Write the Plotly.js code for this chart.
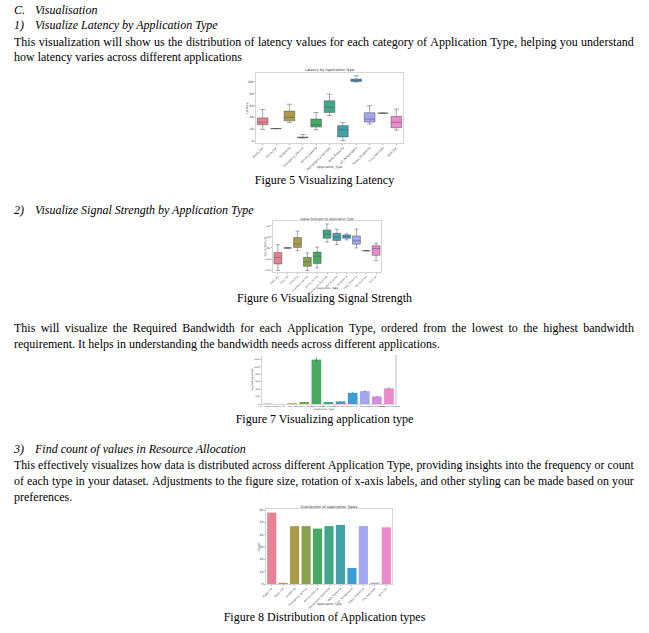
<!DOCTYPE html>
<html><head><meta charset="utf-8">
<script src="https://cdn.plot.ly/plotly-3.0.1.min.js"></script>
<style>
body{margin:0;background:#fff;width:649px;height:633px;position:relative;overflow:hidden;font-family:"Liberation Serif","Times New Roman",serif;color:#000;}
.t{position:absolute;left:14px;width:620px;font-size:12px;line-height:16px;height:16px;white-space:nowrap;}
.j{display:flex;justify-content:space-between;white-space:nowrap;}
.i{font-style:italic;}
.c{text-align:center;left:0;width:649px;}
.n{display:inline-block;width:21px;}
.chart{position:absolute;}
</style></head>
<body>
<div class="t i" style="top:2px"><span class="n">C.</span>Visualisation</div>
<div class="t i" style="top:17px"><span class="n">1)</span>Visualize Latency by Application Type</div>
<div class="t j" style="top:34px">This visualization will show us the distribution of latency values for each category of Application Type, helping you understand</div>
<div class="t" style="top:49px">how latency varies across different applications</div>
<div class="t c" style="top:172px">Figure 5 Visualizing Latency</div>
<div class="t i" style="top:202px"><span class="n">2)</span>Visualize Signal Strength by Application Type</div>
<div class="t c" style="top:290px">Figure 6 Visualizing Signal Strength</div>
<div class="t j" style="top:320px">This will visualize the Required Bandwidth for each Application Type, ordered from the lowest to the highest bandwidth</div>
<div class="t" style="top:336px">requirement. It helps in understanding the bandwidth needs across different applications.</div>
<div class="t c" style="top:411px">Figure 7 Visualizing application type</div>
<div class="t i" style="top:441px"><span class="n">3)</span>Find count of values in Resource Allocation</div>
<div class="t j" style="top:457px;font-size:11.8px">This effectively visualizes how data is distributed across different Application Type, providing insights into the frequency or count</div>
<div class="t j" style="top:473px;font-size:11.9px">of each type in your dataset. Adjustments to the figure size, rotation of x-axis labels, and other styling can be made based on your</div>
<div class="t" style="top:489px">preferences.</div>
<div class="t c" style="top:609px">Figure 8 Distribution of Application types</div>

<div id="c1" class="chart" style="left:240px;top:62px;width:170px;height:116px"></div>
<div id="c2" class="chart" style="left:258px;top:212px;width:132px;height:84px"></div>
<div id="c3" class="chart" style="left:245px;top:350px;width:158px;height:63px"></div>
<div id="c4" class="chart" style="left:245px;top:500px;width:155px;height:112px"></div>

<script>
document.querySelectorAll(".j").forEach(function(el){
  var words = el.textContent.trim().split(/\s+/);
  el.textContent = "";
  words.forEach(function(w){ var s=document.createElement("span"); s.textContent=w; el.appendChild(s); });
});

const appTypes = ["Video_Call","Voice_Call","Streaming","Emergency_Service","Online_Gaming","Background_Download","Web_Browsing","IoT_Temperature","Video_Streaming","File_Download","VoIP_Call"];
const palette = ["#e68294","#c98f52","#ab9b46","#86a24a","#48a962","#40a68a","#3fa2aa","#3d9ed4","#a2a6ef","#cf8ee6","#e88acc"];

const latencyQ1 = [27.5,21,34,5.6,23.6,48,7,100.5,32,47,22.5];
const latencyMedian = [32,21,40,6,27.5,57,19,102,37,47,31.5];
const latencyQ3 = [39,21,50.5,6.7,37,68,26,104.5,47.8,47,41.6];
const latencyLow = [19.7,21,31,5,19,43,1,99.4,28.7,47,18.5];
const latencyHigh = [53,21,62,11,48,79,31.5,110,59.5,47,54];

const signalQ1 = [-108.7,-80,-79,-113,-108,-62.5,-66.7,-62.5,-73.2,-85,-93.3];
const signalMedian = [-96.9,-80,-72.6,-105,-95,-55.4,-60.7,-59.6,-67,-85,-81];
const signalQ3 = [-88,-80,-61.3,-96.9,-87.4,-47.7,-53.6,-56.6,-58.4,-85,-76];
const signalLow = [-120.6,-80,-85,-120.6,-115.8,-69.6,-74.4,-65.5,-80,-85,-102.8];
const signalHigh = [-74,-80,-49.5,-89,-78.5,-37,-46.5,-54.8,-46,-85,-71.4];

const bandwidthOrder = ["IoT_Temperature","Voice_Call","VoIP_Call","Emergency_Service","File_Download","Web_Browsing","Online_Gaming","Video_Call","Streaming","Video_Streaming","Background_Download"];
const bandwidthMean = [10,3,20,53,1190,53,70,300,345,205,420];
const bandwidthErr = [3,1,3,8,55,6,8,20,25,12,25];

const typeCounts = [58,1,47,47,45,47,48,13,47,1,46];

const latencyTicks = [0,20,40,60,80,100];
const signalTicks = [-120,-100,-80,-60,-40];
const bandwidthTicks = [0,200,400,600,800,1000,1200];
const countTicks = [0,10,20,30,40,50,60];

const FONT = "DejaVu Sans, sans-serif";
const cfg = {staticPlot:true, displayModeBar:false};

function baseLayout(W,H,L,T,R,B){
  return {
    width:W,height:H,
    margin:{l:L,t:T,r:W-R,b:H-B,pad:0},
    paper_bgcolor:"rgba(0,0,0,0)",plot_bgcolor:"#fff",
    showlegend:false,hovermode:false,
    font:{family:FONT,size:3,color:"#333"}
  };
}
function axisBase(){
  return {showgrid:false,zeroline:false,showline:true,linecolor:"#bbb",linewidth:0.6,mirror:true,
    ticks:"outside",ticklen:1.5,tickwidth:0.5,tickcolor:"#666",automargin:false,
    tickfont:{family:FONT,size:3,color:"#333"}};
}
function ann(text,x,y,angle,size){
  return {text:text,xref:"paper",yref:"paper",x:x,y:y,showarrow:false,textangle:angle||0,
    xanchor:"center",yanchor:"middle",font:{family:FONT,size:size||3,color:"#333"}};
}

// Chart 1: Latency box plot
(function(){
  const traces = appTypes.map((a,i)=>({
    type:"box",x:[a],q1:[latencyQ1[i]],median:[latencyMedian[i]],q3:[latencyQ3[i]],
    lowerfence:[latencyLow[i]],upperfence:[latencyHigh[i]],
    fillcolor:palette[i],line:{color:"#555",width:0.5},width:0.8,whiskerwidth:0.5,boxpoints:false
  }));
  const lay = baseLayout(170,116,16,10.7,163,81.3);
  lay.boxmode = "overlay";
  lay.title = {text:"Latency by Application Type",font:{family:FONT,size:3.5,color:"#333"},x:0.5,xref:"paper",xanchor:"center",y:1-8/116,yref:"container",yanchor:"middle"};
  lay.xaxis = Object.assign(axisBase(),{type:"category",categoryarray:appTypes,categoryorder:"array",range:[-0.5,10.5],tickangle:-45,tickfont:{family:FONT,size:2.8,color:"#333"}});
  lay.yaxis = Object.assign(axisBase(),{range:[-3.3,114.7],tickvals:latencyTicks});
  lay.annotations = [ann("Latency",(247-256)/147,0.5,-90),ann("Application_Type",0.5,(143.3-167.3)/70.6,0)];
  Plotly.newPlot("c1",traces,lay,cfg);
})();

// Chart 2: Signal strength box plot
(function(){
  const traces = appTypes.map((a,i)=>({
    type:"box",x:[a],q1:[signalQ1[i]],median:[signalMedian[i]],q3:[signalQ3[i]],
    lowerfence:[signalLow[i]],upperfence:[signalHigh[i]],
    fillcolor:palette[i],line:{color:"#555",width:0.5},width:0.8,whiskerwidth:0.5,boxpoints:false
  }));
  const lay = baseLayout(132,84,15,9,123,60.5);
  lay.boxmode = "overlay";
  lay.title = {text:"Signal Strength by Application Type",font:{family:FONT,size:3,color:"#333"},x:0.5,xref:"paper",xanchor:"center",y:1-6.5/84,yref:"container",yanchor:"middle"};
  lay.xaxis = Object.assign(axisBase(),{type:"category",categoryarray:appTypes,categoryorder:"array",range:[-0.5,10.5],tickangle:-45,tickfont:{family:FONT,size:2.2,color:"#333"}});
  lay.yaxis = Object.assign(axisBase(),{range:[-123.2,-31.6],tickvals:signalTicks,tickfont:{family:FONT,size:2.5,color:"#333"}});
  lay.annotations = [ann("Signal_Strength",(265-273)/108,0.5,-90,2.5),ann("Application_Type",0.5,(272.5-289)/51.5,0,2.5)];
  Plotly.newPlot("c2",traces,lay,cfg);
})();

// Chart 3: Required bandwidth bar chart
(function(){
  const colors = bandwidthOrder.map((a,i)=>palette[i]);
  const traces = [{type:"bar",x:bandwidthOrder,y:bandwidthMean,width:0.8,
    marker:{color:colors,line:{width:0}},
    error_y:{type:"data",array:bandwidthErr,visible:true,color:"#444",thickness:0.6,width:0}}];
  const lay = baseLayout(158,63,17,5,150,54);
  lay.xaxis = Object.assign(axisBase(),{type:"category",categoryarray:bandwidthOrder,categoryorder:"array",range:[-0.5,10.5],tickangle:0,mirror:false,ticks:"",tickfont:{family:FONT,size:1.9,color:"#444"}});
  lay.yaxis = Object.assign(axisBase(),{range:[0,1315],tickvals:bandwidthTicks,mirror:false,tickfont:{family:FONT,size:2.2,color:"#444"}});
  lay.shapes = [{type:"rect",xref:"paper",yref:"paper",x0:1.0,x1:1.014,y0:-0.02,y1:1.0,fillcolor:"#dcdcdc",line:{width:0}}];
  lay.annotations = [ann("Required_Bandwidth",(252-262)/133,0.5,-90,2.2),ann("Application_Type",0.47,(404-409.5)/49,0,2.4)];
  Plotly.newPlot("c3",traces,lay,cfg);
})();

// Chart 4: Count bar chart
(function(){
  const traces = [{type:"bar",x:appTypes,y:typeCounts,width:0.8,marker:{color:palette,line:{width:0}}}];
  const lay = baseLayout(155,112,21,9,147,84);
  lay.title = {text:"Distribution of Application Types",font:{family:FONT,size:3.5,color:"#333"},x:0.5,xref:"paper",xanchor:"center",y:1-7/112,yref:"container",yanchor:"middle"};
  lay.xaxis = Object.assign(axisBase(),{type:"category",categoryarray:appTypes,categoryorder:"array",range:[-0.5,10.5],tickangle:-45,tickfont:{family:FONT,size:2.5,color:"#333"}});
  lay.yaxis = Object.assign(axisBase(),{range:[0,60.9],tickvals:countTicks});
  lay.annotations = [ann("Count",(258-266)/126,0.5,-90),ann("Application Type",0.5,(584-603.5)/75,0)];
  Plotly.newPlot("c4",traces,lay,cfg);
})();
</script>
</body></html>
